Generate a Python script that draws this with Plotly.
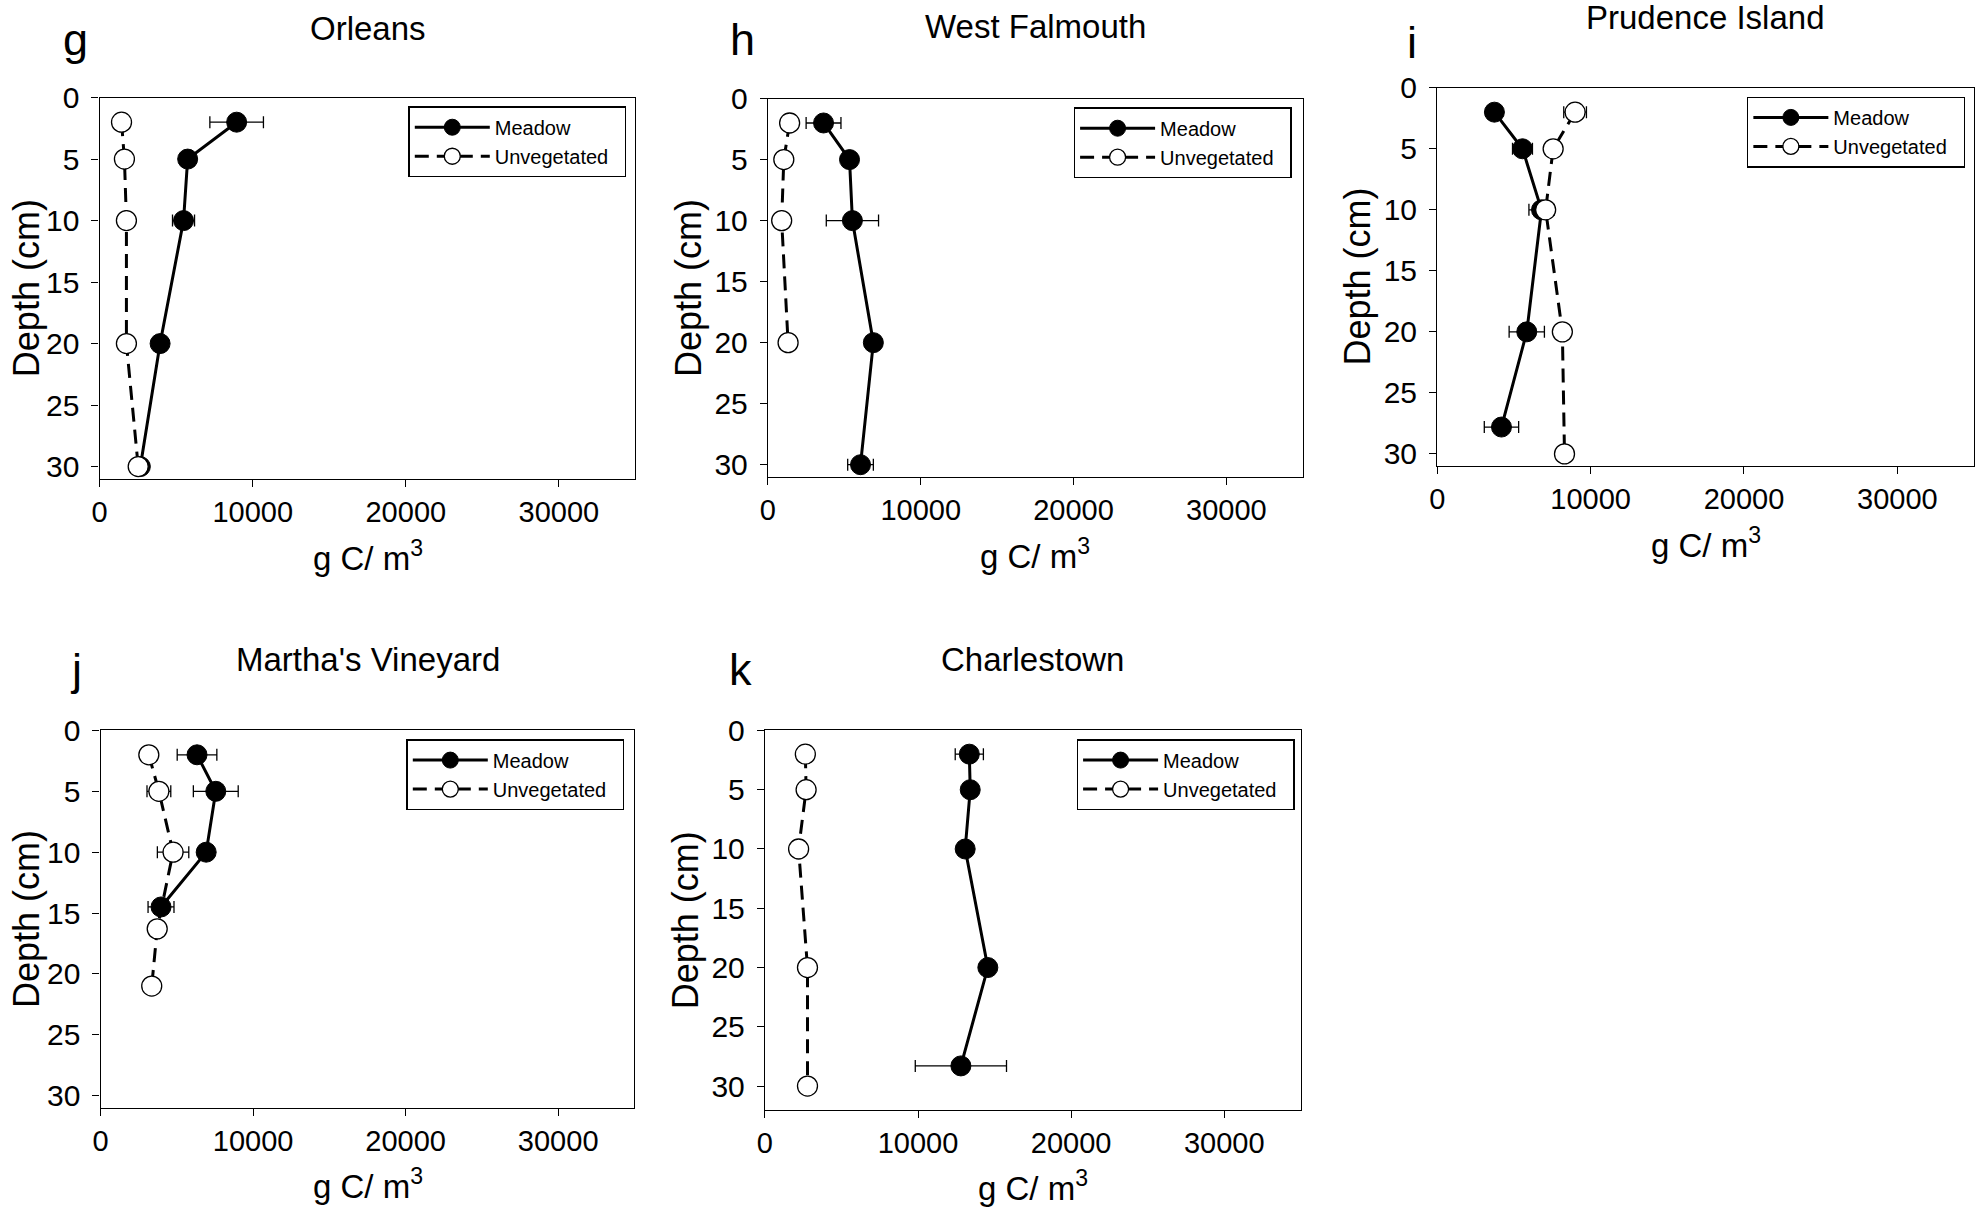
import plotly.graph_objects as go

W, H = 1980, 1215
FONT = "Liberation Sans, Arial, sans-serif"

# ---------------- data ----------------
panel_letters = ["g", "h", "i", "j", "k"]
site_names = ["Orleans", "West Falmouth", "Prudence Island", "Martha's Vineyard", "Charlestown"]
x_ticks = [0, 10000, 20000, 30000]
y_ticks = [0, 5, 10, 15, 20, 25, 30]
x_max = 35000
y_max = [31, 31, 31, 31, 32]

orleans_meadow_depth = [2, 5, 10, 20, 30]
orleans_meadow_c = [8950, 5750, 5480, 3950, 2660]
orleans_meadow_err = [1750, 300, 720, 400, 300]
orleans_unveg_depth = [2, 5, 10, 20, 30]
orleans_unveg_c = [1430, 1620, 1750, 1750, 2520]
orleans_unveg_err = [0, 0, 0, 0, 0]

wfal_meadow_depth = [2, 5, 10, 20, 30]
wfal_meadow_c = [3640, 5340, 5530, 6900, 6060]
wfal_meadow_err = [1140, 300, 1710, 300, 840]
wfal_unveg_depth = [2, 5, 10, 20]
wfal_unveg_c = [1420, 1040, 900, 1320]
wfal_unveg_err = [0, 0, 0, 0]

prud_meadow_depth = [2, 5, 10, 20, 27.8]
prud_meadow_c = [3730, 5560, 6800, 5840, 4190]
prud_meadow_err = [300, 650, 820, 1150, 1120]
prud_unveg_depth = [2, 5, 10, 20, 30]
prud_unveg_c = [8990, 7560, 7070, 8160, 8300]
prud_unveg_err = [740, 0, 0, 0, 0]

mv_meadow_depth = [2, 5, 10, 14.5]
mv_meadow_c = [6320, 7550, 6920, 3960]
mv_meadow_err = [1300, 1470, 300, 850]
mv_unveg_depth = [2, 5, 10, 16.3, 21]
mv_unveg_c = [3160, 3820, 4750, 3710, 3350]
mv_unveg_err = [0, 780, 1030, 0, 0]

ch_meadow_depth = [2, 5, 10, 20, 28.3]
ch_meadow_c = [13350, 13410, 13080, 14560, 12800]
ch_meadow_err = [920, 300, 300, 300, 2980]
ch_unveg_depth = [2, 5, 10, 20, 30]
ch_unveg_c = [2640, 2690, 2200, 2780, 2780]
ch_unveg_err = [0, 0, 0, 0, 0]

meadow_sets = [
    (orleans_meadow_c, orleans_meadow_depth, orleans_meadow_err),
    (wfal_meadow_c, wfal_meadow_depth, wfal_meadow_err),
    (prud_meadow_c, prud_meadow_depth, prud_meadow_err),
    (mv_meadow_c, mv_meadow_depth, mv_meadow_err),
    (ch_meadow_c, ch_meadow_depth, ch_meadow_err),
]
unveg_sets = [
    (orleans_unveg_c, orleans_unveg_depth, orleans_unveg_err),
    (wfal_unveg_c, wfal_unveg_depth, wfal_unveg_err),
    (prud_unveg_c, prud_unveg_depth, prud_unveg_err),
    (mv_unveg_c, mv_unveg_depth, mv_unveg_err),
    (ch_unveg_c, ch_unveg_depth, ch_unveg_err),
]

# ---------------- layout geometry (pixels) ----------------
boxes = [
    (92, 630, 82, 470),
    (763, 1300, 83, 468),
    (1435, 1974, 72, 457),
    (93, 629, 726, 1110),
    (760, 1298, 726, 1112),
]
title_y = [11.5, 9.5, 1, 654, 654]
letter_pos = [(68, 23), (737, 23), (1410, 26), (68, 664), (735, 664)]
legend_pos = [(621, 91), (1289, 92), (1965, 81), (619, 735), (1292, 735)]
ytitle_x = [18, 683, 1355, 18, 680]


def fx(px):
    return px / W


def fy(py):
    return 1 - py / H


fig = go.Figure()
layout = dict(
    width=W, height=H,
    margin=dict(l=0, r=0, t=0, b=0),
    paper_bgcolor="white", plot_bgcolor="white",
    font=dict(family=FONT, color="black"),
    showlegend=True,
    hovermode=False,
)
annotations = []
pad = "\u00a0\u00a0"

for i in range(5):
    s = "" if i == 0 else str(i + 1)
    xa, ya = "x" + s, "y" + s
    lg = "legend" + s
    l, r, t, b = boxes[i]

    mc, md, me = meadow_sets[i]
    uc, ud, ue = unveg_sets[i]

    fig.add_trace(go.Scatter(
        x=mc, y=md, mode="lines+markers", name="Meadow" + pad,
        xaxis=xa, yaxis=ya, legend=lg,
        line=dict(color="black", width=3),
        marker=dict(symbol="circle", size=20, color="black",
                    line=dict(color="black", width=1)),
        error_x=dict(type="data", array=me, color="black", thickness=1.3, width=6),
    ))
    fig.add_trace(go.Scatter(
        x=uc, y=ud, mode="lines+markers", name="Unvegetated" + pad,
        xaxis=xa, yaxis=ya, legend=lg,
        line=dict(color="black", width=3, dash="14px,8px"),
        marker=dict(symbol="circle", size=20, color="white",
                    line=dict(color="black", width=1.3)),
        error_x=dict(type="data", array=ue, color="black", thickness=1.3, width=6),
    ))

    layout["xaxis" + s] = dict(
        domain=[fx(l), fx(r)], anchor=ya, range=[0, x_max],
        tickvals=x_ticks, tickformat="d",
        showline=True, linecolor="black", linewidth=1.3, mirror=True,
        ticks="outside", ticklen=7, tickcolor="black", tickwidth=1.3,
        showgrid=False, zeroline=False,
        tickfont=dict(family=FONT, size=29, color="black"),
        fixedrange=True,
    )
    layout["yaxis" + s] = dict(
        domain=[fy(b), fy(t)], anchor=xa, range=[y_max[i], 0],
        tickvals=y_ticks,
        showline=True, linecolor="black", linewidth=1.3, mirror=True,
        ticks="outside", ticklen=7, tickcolor="black", tickwidth=1.3,
        ticklabelstandoff=6,
        showgrid=False, zeroline=False,
        tickfont=dict(family=FONT, size=30, color="black"),
        fixedrange=True,
    )
    lx, ly = legend_pos[i]
    layout[lg] = dict(
        x=fx(lx), y=fy(ly), xanchor="right", yanchor="top",
        xref="paper", yref="paper",
        bgcolor="white", bordercolor="black", borderwidth=1.3,
        font=dict(family=FONT, size=20, color="black"),
        itemwidth=75, tracegroupgap=0,
    )

    cx = (l + r) / 2
    annotations.append(dict(
        text=site_names[i], x=fx(cx), y=fy(title_y[i]),
        xref="paper", yref="paper", xanchor="center", yanchor="middle",
        showarrow=False, font=dict(family=FONT, size=33, color="black"),
    ))
    px_, py_ = letter_pos[i]
    annotations.append(dict(
        text=panel_letters[i], x=fx(px_), y=fy(py_),
        xref="paper", yref="paper", xanchor="center", yanchor="middle",
        showarrow=False, font=dict(family=FONT, size=45, color="black"),
    ))
    annotations.append(dict(
        text="g C/ m<sup>3</sup>", x=fx(cx), y=fy(b + 78),
        xref="paper", yref="paper", xanchor="center", yanchor="middle",
        showarrow=False, font=dict(family=FONT, size=33, color="black"),
    ))
    annotations.append(dict(
        text="Depth (cm)", x=fx(ytitle_x[i]), y=fy((t + b) / 2),
        xref="paper", yref="paper", xanchor="center", yanchor="middle",
        textangle=-90, showarrow=False,
        font=dict(family=FONT, size=36, color="black"),
    ))

layout["annotations"] = annotations
fig.update_layout(**layout)
fig.write_html(
    "out.html",
    config={"displayModeBar": False},
    post_script="document.body.style.margin='0px';",
)
